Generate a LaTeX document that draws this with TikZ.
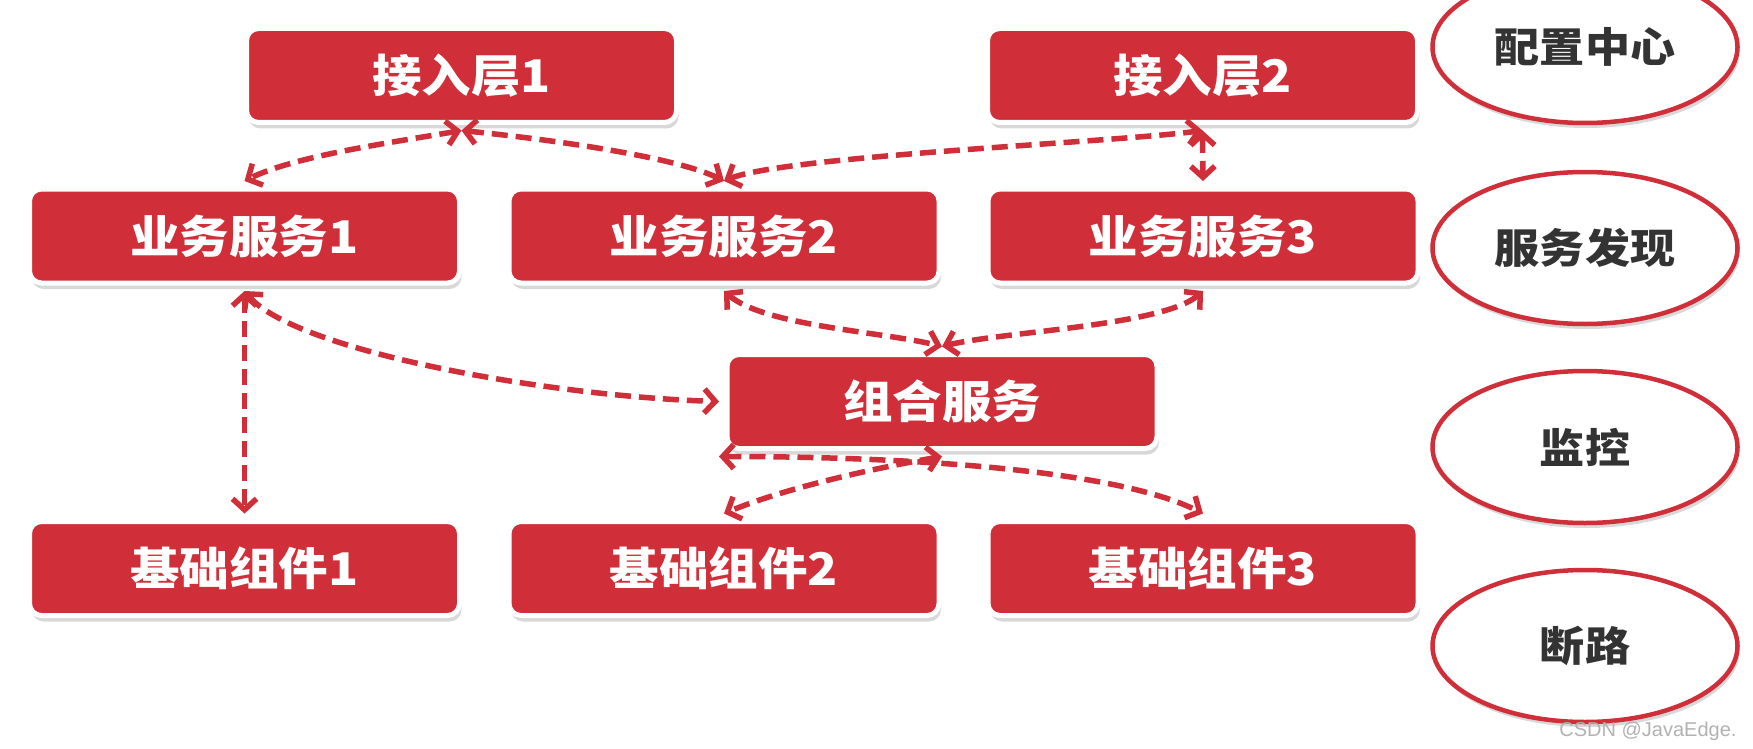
\documentclass[tikz,border=0pt]{standalone}
\usepackage{fontspec}
\newfontfamily\cjk{Noto Sans CJK SC}[FakeStretch=1.1]
\setsansfont{Liberation Sans}
\usetikzlibrary{arrows.meta}
\usetikzlibrary{shapes.geometric}
\usetikzlibrary{shadows}
\definecolor{boxred}{RGB}{208,46,56}
\definecolor{ovaltext}{RGB}{51,51,51}
\tikzset{
	layerbox/.style={draw=white, line width=5pt, fill=boxred, rounded corners=12pt,
		minimum width=430pt, minimum height=94pt, outer sep=8pt, text=white,
		font=\cjk\bfseries\fontsize{45}{50}\selectfont,
		drop shadow={shadow xshift=2pt, shadow yshift=-6pt, opacity=.3}},
	oval/.style={ellipse, draw=boxred, line width=4.5pt, fill=white,
		minimum width=305pt, minimum height=152pt, text=ovaltext,
		font=\cjk\bfseries\fontsize{41}{46}\selectfont,
		drop shadow={shadow xshift=2pt, shadow yshift=-5pt, opacity=.3}},
	link/.style={boxred, line width=5.5pt, dash pattern=on 16pt off 8pt,
		>={Straight Barb[length=11pt,width=24pt]}, <->}
}

\begin{document}
\begin{tikzpicture}[x=1pt, y=-1pt]
			\fill[white] (0,0) rectangle (1753,749);
			\useasboundingbox (0,0) rectangle (1753,749);
			\node[layerbox] (l1) at (461.5, 75.5) {接入层1};
			\node[layerbox] (l2) at (1202.5, 75.5) {接入层2};
			\node[layerbox] (s1) at (244.5, 236) {业务服务1};
			\node[layerbox] (s2) at (724, 236) {业务服务2};
			\node[layerbox] (s3) at (1203, 236) {业务服务3};
			\node[layerbox] (comb) at (942, 401.5) {组合服务};
			\node[layerbox] (b1) at (244.5, 568.5) {基础组件1};
			\node[layerbox] (b2) at (724, 568.5) {基础组件2};
			\node[layerbox] (b3) at (1203, 568.5) {基础组件3};
			\node[oval] (cfg) at (1585, 47) {配置中心};
			\node[oval] (disc) at (1585, 248) {服务发现};
			\node[oval] (mon) at (1585, 447) {监控};
			\node[oval] (brk) at (1585, 646) {断路};
			\node[anchor=east, text=black!30, font=\sffamily\fontsize{20}{24}\selectfont] (csdn) at (1740, 731) {CSDN @JavaEdge.};
			\begin{scope}[link]
				\draw (l1.south) .. controls +(-70,12) and +(50,-25) .. (s1.north);
				\draw (l1.south) .. controls +(80,8) and +(-50,-25) .. (s2.north);
				\draw (s2.north) .. controls +(60,-25) and +(-90,12) .. (l2.south);
				\draw (l2.south) -- (s3.north);
				\draw (s2.south) .. controls +(40,35) and +(-60,-15) .. (comb.north);
				\draw (s3.south) .. controls +(-40,35) and +(60,-15) .. (comb.north);
				\draw (s1.south) .. controls +(50,60) and +(-170,-5) .. (comb.west);
				\draw (s1.south) -- (b1.north);
				\draw (comb.south) .. controls +(-70,12) and +(60,-25) .. (b2.north);
				\draw (comb.south west) .. controls +(180,0) and +(-90,-45) .. (b3.north);
			\end{scope}
		\end{tikzpicture}
\end{document}
